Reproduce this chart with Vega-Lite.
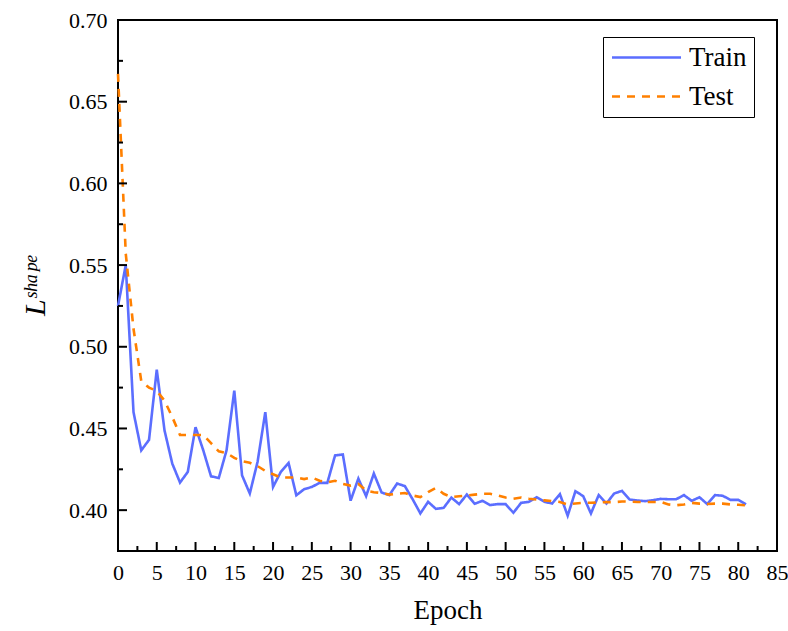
{
  "$schema": "https://vega.github.io/schema/vega-lite/v6.json",
  "width": 659,
  "height": 531,
  "autosize": {"type": "none"},
  "padding": {"left": 118, "top": 20, "right": 11, "bottom": 80},
  "background": "white",
  "config": {
    "font": "Liberation Serif",
    "view": {"stroke": "black", "strokeWidth": 2},
    "legend": {
      "orient": "none",
      "legendX": 485,
      "legendY": 17,
      "strokeColor": "black",
      "fillColor": "white",
      "padding": 7,
      "symbolType": "M-1,0H5",
      "symbolSize": 529,
      "symbolStrokeWidth": 2.5,
      "labelFontSize": 27,
      "labelFont": "Liberation Serif",
      "labelColor": "black",
      "labelOffset": 52,
      "rowPadding": 11
    }
  },
  "datasets": {
    "curves": [
      {"epoch": 0, "Train": 0.525, "Test": 0.667},
      {"epoch": 1, "Train": 0.550, "Test": 0.557},
      {"epoch": 2, "Train": 0.460, "Test": 0.511},
      {"epoch": 3, "Train": 0.4366, "Test": 0.479},
      {"epoch": 4, "Train": 0.443, "Test": 0.475},
      {"epoch": 5, "Train": 0.486, "Test": 0.473},
      {"epoch": 6, "Train": 0.4488, "Test": 0.467},
      {"epoch": 7, "Train": 0.4285, "Test": 0.457},
      {"epoch": 8, "Train": 0.4169, "Test": 0.446},
      {"epoch": 9, "Train": 0.4234, "Test": 0.446},
      {"epoch": 10, "Train": 0.4508, "Test": 0.446},
      {"epoch": 11, "Train": 0.4366, "Test": 0.446},
      {"epoch": 12, "Train": 0.4207, "Test": 0.441},
      {"epoch": 13, "Train": 0.4197, "Test": 0.436},
      {"epoch": 14, "Train": 0.4366, "Test": 0.435},
      {"epoch": 15, "Train": 0.4732, "Test": 0.432},
      {"epoch": 16, "Train": 0.4213, "Test": 0.430},
      {"epoch": 17, "Train": 0.4102, "Test": 0.429},
      {"epoch": 18, "Train": 0.4295, "Test": 0.427},
      {"epoch": 19, "Train": 0.460, "Test": 0.424},
      {"epoch": 20, "Train": 0.4142, "Test": 0.422},
      {"epoch": 21, "Train": 0.4234, "Test": 0.420},
      {"epoch": 22, "Train": 0.4289, "Test": 0.420},
      {"epoch": 23, "Train": 0.4091, "Test": 0.420},
      {"epoch": 24, "Train": 0.4128, "Test": 0.419},
      {"epoch": 25, "Train": 0.4142, "Test": 0.420},
      {"epoch": 26, "Train": 0.4167, "Test": 0.418},
      {"epoch": 27, "Train": 0.4167, "Test": 0.417},
      {"epoch": 28, "Train": 0.4335, "Test": 0.418},
      {"epoch": 29, "Train": 0.4341, "Test": 0.416},
      {"epoch": 30, "Train": 0.4058, "Test": 0.415},
      {"epoch": 31, "Train": 0.4193, "Test": 0.416},
      {"epoch": 32, "Train": 0.4086, "Test": 0.412},
      {"epoch": 33, "Train": 0.4224, "Test": 0.411},
      {"epoch": 34, "Train": 0.4108, "Test": 0.4105},
      {"epoch": 35, "Train": 0.4092, "Test": 0.4095},
      {"epoch": 36, "Train": 0.4163, "Test": 0.410},
      {"epoch": 37, "Train": 0.4147, "Test": 0.4105},
      {"epoch": 38, "Train": 0.4067, "Test": 0.409},
      {"epoch": 39, "Train": 0.398, "Test": 0.408},
      {"epoch": 40, "Train": 0.4051, "Test": 0.411},
      {"epoch": 41, "Train": 0.4008, "Test": 0.4136},
      {"epoch": 42, "Train": 0.4014, "Test": 0.410},
      {"epoch": 43, "Train": 0.4077, "Test": 0.408},
      {"epoch": 44, "Train": 0.4037, "Test": 0.4085},
      {"epoch": 45, "Train": 0.4096, "Test": 0.409},
      {"epoch": 46, "Train": 0.4039, "Test": 0.4095},
      {"epoch": 47, "Train": 0.4057, "Test": 0.410},
      {"epoch": 48, "Train": 0.4031, "Test": 0.410},
      {"epoch": 49, "Train": 0.4037, "Test": 0.409},
      {"epoch": 50, "Train": 0.4037, "Test": 0.4077},
      {"epoch": 51, "Train": 0.3984, "Test": 0.407},
      {"epoch": 52, "Train": 0.4045, "Test": 0.4077},
      {"epoch": 53, "Train": 0.4051, "Test": 0.407},
      {"epoch": 54, "Train": 0.4079, "Test": 0.4065},
      {"epoch": 55, "Train": 0.4051, "Test": 0.406},
      {"epoch": 56, "Train": 0.4041, "Test": 0.4055},
      {"epoch": 57, "Train": 0.4098, "Test": 0.405},
      {"epoch": 58, "Train": 0.3966, "Test": 0.4035},
      {"epoch": 59, "Train": 0.4116, "Test": 0.4041},
      {"epoch": 60, "Train": 0.4086, "Test": 0.4045},
      {"epoch": 61, "Train": 0.398, "Test": 0.4045},
      {"epoch": 62, "Train": 0.4092, "Test": 0.4047},
      {"epoch": 63, "Train": 0.4041, "Test": 0.4049},
      {"epoch": 64, "Train": 0.4102, "Test": 0.4049},
      {"epoch": 65, "Train": 0.4118, "Test": 0.4053},
      {"epoch": 66, "Train": 0.4065, "Test": 0.4052},
      {"epoch": 67, "Train": 0.4059, "Test": 0.405},
      {"epoch": 68, "Train": 0.4055, "Test": 0.405},
      {"epoch": 69, "Train": 0.4061, "Test": 0.405},
      {"epoch": 70, "Train": 0.4069, "Test": 0.405},
      {"epoch": 71, "Train": 0.4067, "Test": 0.4035},
      {"epoch": 72, "Train": 0.4067, "Test": 0.403},
      {"epoch": 73, "Train": 0.4092, "Test": 0.4035},
      {"epoch": 74, "Train": 0.4057, "Test": 0.4045},
      {"epoch": 75, "Train": 0.4079, "Test": 0.404},
      {"epoch": 76, "Train": 0.4037, "Test": 0.4038},
      {"epoch": 77, "Train": 0.4092, "Test": 0.404},
      {"epoch": 78, "Train": 0.4088, "Test": 0.404},
      {"epoch": 79, "Train": 0.4063, "Test": 0.4035},
      {"epoch": 80, "Train": 0.4063, "Test": 0.4033},
      {"epoch": 81, "Train": 0.4035, "Test": 0.403}
    ],
    "xMajorTicks": [
      {"epoch": 0}, {"epoch": 5}, {"epoch": 10}, {"epoch": 15}, {"epoch": 20}, {"epoch": 25}, {"epoch": 30}, {"epoch": 35}, {"epoch": 40},
      {"epoch": 45}, {"epoch": 50}, {"epoch": 55}, {"epoch": 60}, {"epoch": 65}, {"epoch": 70}, {"epoch": 75}, {"epoch": 80}, {"epoch": 85}
    ],
    "xMinorTicks": [
      {"epoch": 2.5}, {"epoch": 7.5}, {"epoch": 12.5}, {"epoch": 17.5}, {"epoch": 22.5}, {"epoch": 27.5}, {"epoch": 32.5}, {"epoch": 37.5}, {"epoch": 42.5},
      {"epoch": 47.5}, {"epoch": 52.5}, {"epoch": 57.5}, {"epoch": 62.5}, {"epoch": 67.5}, {"epoch": 72.5}, {"epoch": 77.5}, {"epoch": 82.5}
    ],
    "yMajorTicks": [
      {"loss": 0.40}, {"loss": 0.45}, {"loss": 0.50}, {"loss": 0.55}, {"loss": 0.60}, {"loss": 0.65}, {"loss": 0.70}
    ],
    "yMinorTicks": [
      {"loss": 0.425}, {"loss": 0.475}, {"loss": 0.525}, {"loss": 0.575}, {"loss": 0.625}, {"loss": 0.675}
    ]
  },
  "layer": [
    {
      "data": {"name": "curves"},
      "transform": [{"fold": ["Train", "Test"], "as": ["series", "loss"]}],
      "mark": {"type": "line", "strokeWidth": 2.6},
      "encoding": {
        "x": {
          "field": "epoch",
          "type": "quantitative",
          "scale": {"domain": [0, 85], "nice": false, "zero": false},
          "axis": {
            "grid": false,
            "domain": false,
            "ticks": false,
            "tickCount": 17,
            "format": "d",
            "labelFlush": false,
            "labelPadding": 11,
            "labelFont": "Liberation Serif",
            "labelFontSize": 22,
            "labelColor": "black",
            "title": "Epoch",
            "titleFont": "Liberation Serif",
            "titleFontSize": 27,
            "titleFontWeight": "normal",
            "titleColor": "black",
            "titlePadding": 14
          }
        },
        "y": {
          "field": "loss",
          "type": "quantitative",
          "scale": {"domain": [0.375, 0.70], "nice": false, "zero": false},
          "axis": {
            "grid": false,
            "domain": false,
            "ticks": false,
            "tickCount": 7,
            "format": ".2f",
            "labelFlush": false,
            "labelPadding": 11,
            "labelFont": "Liberation Serif",
            "labelFontSize": 22,
            "labelColor": "black",
            "title": "Lˢʰᵃᵖᵉ",
            "titleFont": "Liberation Serif",
            "titleFontSize": 30,
            "titleFontStyle": "italic",
            "titleFontWeight": "normal",
            "titleColor": "black",
            "titlePadding": 18
          }
        },
        "color": {
          "field": "series",
          "type": "nominal",
          "scale": {"domain": ["Train", "Test"], "range": ["#5b6eff", "#ff8000"]},
          "legend": {"title": null}
        },
        "strokeDash": {
          "field": "series",
          "type": "nominal",
          "scale": {"domain": ["Train", "Test"], "range": [[1, 0], [8, 7]]},
          "legend": {"title": null}
        }
      }
    },
    {
      "data": {"name": "xMajorTicks"},
      "mark": {"type": "tick", "orient": "vertical", "color": "black", "opacity": 1, "thickness": 2, "size": 18, "clip": true},
      "encoding": {
        "x": {"field": "epoch", "type": "quantitative"},
        "y": {"datum": 0.375}
      }
    },
    {
      "data": {"name": "xMinorTicks"},
      "mark": {"type": "tick", "orient": "vertical", "color": "black", "opacity": 1, "thickness": 2, "size": 10, "clip": true},
      "encoding": {
        "x": {"field": "epoch", "type": "quantitative"},
        "y": {"datum": 0.375}
      }
    },
    {
      "data": {"name": "yMajorTicks"},
      "mark": {"type": "tick", "orient": "horizontal", "color": "black", "opacity": 1, "thickness": 2, "size": 18, "clip": true},
      "encoding": {
        "y": {"field": "loss", "type": "quantitative"},
        "x": {"datum": 0}
      }
    },
    {
      "data": {"name": "yMinorTicks"},
      "mark": {"type": "tick", "orient": "horizontal", "color": "black", "opacity": 1, "thickness": 2, "size": 10, "clip": true},
      "encoding": {
        "y": {"field": "loss", "type": "quantitative"},
        "x": {"datum": 0}
      }
    }
  ]
}
